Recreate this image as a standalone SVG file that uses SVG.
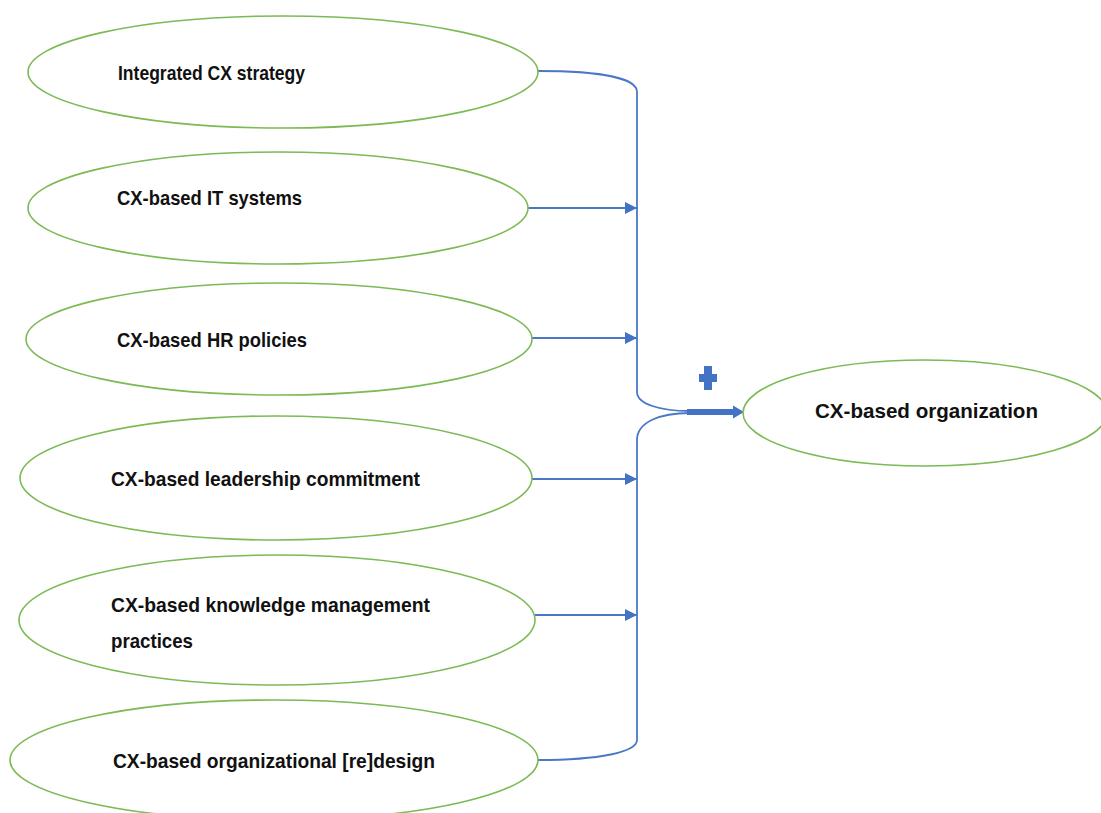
<svg xmlns="http://www.w3.org/2000/svg" width="1101" height="813" viewBox="0 0 1101 813">
<style>
.n{fill:#fff;stroke:#7cba55;stroke-width:1.6}
.t{font-family:"Liberation Sans",Arial,sans-serif;font-weight:bold;font-size:21px;fill:#111}
.c{fill:none;stroke:#4a78c8;stroke-width:1.8}
</style>
<defs>
<marker id="ah" markerWidth="14" markerHeight="14" refX="12" refY="6" orient="auto" markerUnits="userSpaceOnUse">
<path d="M0,0 L12,6 L0,12 Z" fill="#4472c4"/>
</marker>
</defs>
<rect width="1101" height="813" fill="#fff"/>
<g id="connectors">
<path class="c" d="M538,71 C600,71 637,78 637,92 L637,392 C637,404 660,411 690,411"/>
<path class="c" d="M538,760 C600,760 637,752 637,740 L637,440 C637,422 660,413 690,413"/>
<line class="c" x1="528" y1="208" x2="637" y2="208" marker-end="url(#ah)"/>
<line class="c" x1="532" y1="338" x2="637" y2="338" marker-end="url(#ah)"/>
<line class="c" x1="532" y1="479" x2="637" y2="479" marker-end="url(#ah)"/>
<line class="c" x1="535" y1="615" x2="637" y2="615" marker-end="url(#ah)"/>
<line x1="687" y1="412" x2="735" y2="412" stroke="#4472c4" stroke-width="6"/>
<path d="M733,405.5 L744,412 L733,418.5 Z" fill="#4472c4"/>
<path d="M704,366 h8 v8 h5 v8 h-5 v8 h-8 v-8 h-5 v-8 h5 Z" fill="#4472c4"/>
</g>
<g id="n1"><ellipse class="n" cx="283" cy="72" rx="255" ry="56"/><text class="t" x="118" y="80" textLength="187" lengthAdjust="spacingAndGlyphs">Integrated CX strategy</text></g>
<g id="n2"><ellipse class="n" cx="278" cy="208" rx="250" ry="56"/><text class="t" x="117" y="205" textLength="185" lengthAdjust="spacingAndGlyphs">CX-based IT systems</text></g>
<g id="n3"><ellipse class="n" cx="279" cy="339" rx="253" ry="56"/><text class="t" x="117" y="347" textLength="190" lengthAdjust="spacingAndGlyphs">CX-based HR policies</text></g>
<g id="n4"><ellipse class="n" cx="276" cy="478" rx="256" ry="62"/><text class="t" x="111" y="486" textLength="309" lengthAdjust="spacingAndGlyphs">CX-based leadership commitment</text></g>
<g id="n5"><ellipse class="n" cx="277" cy="620" rx="258" ry="65"/><text class="t" x="111" y="612" textLength="319" lengthAdjust="spacingAndGlyphs">CX-based knowledge management</text><text class="t" x="111" y="648" textLength="82" lengthAdjust="spacingAndGlyphs">practices</text></g>
<g id="n6"><ellipse class="n" cx="274" cy="760" rx="264" ry="60"/><text class="t" x="113" y="768" textLength="322" lengthAdjust="spacingAndGlyphs">CX-based organizational [re]design</text></g>
<g id="n7"><ellipse class="n" cx="925" cy="413" rx="182" ry="53"/><text class="t" x="815" y="418" font-size="24" textLength="223" lengthAdjust="spacingAndGlyphs">CX-based organization</text></g>
</svg>
